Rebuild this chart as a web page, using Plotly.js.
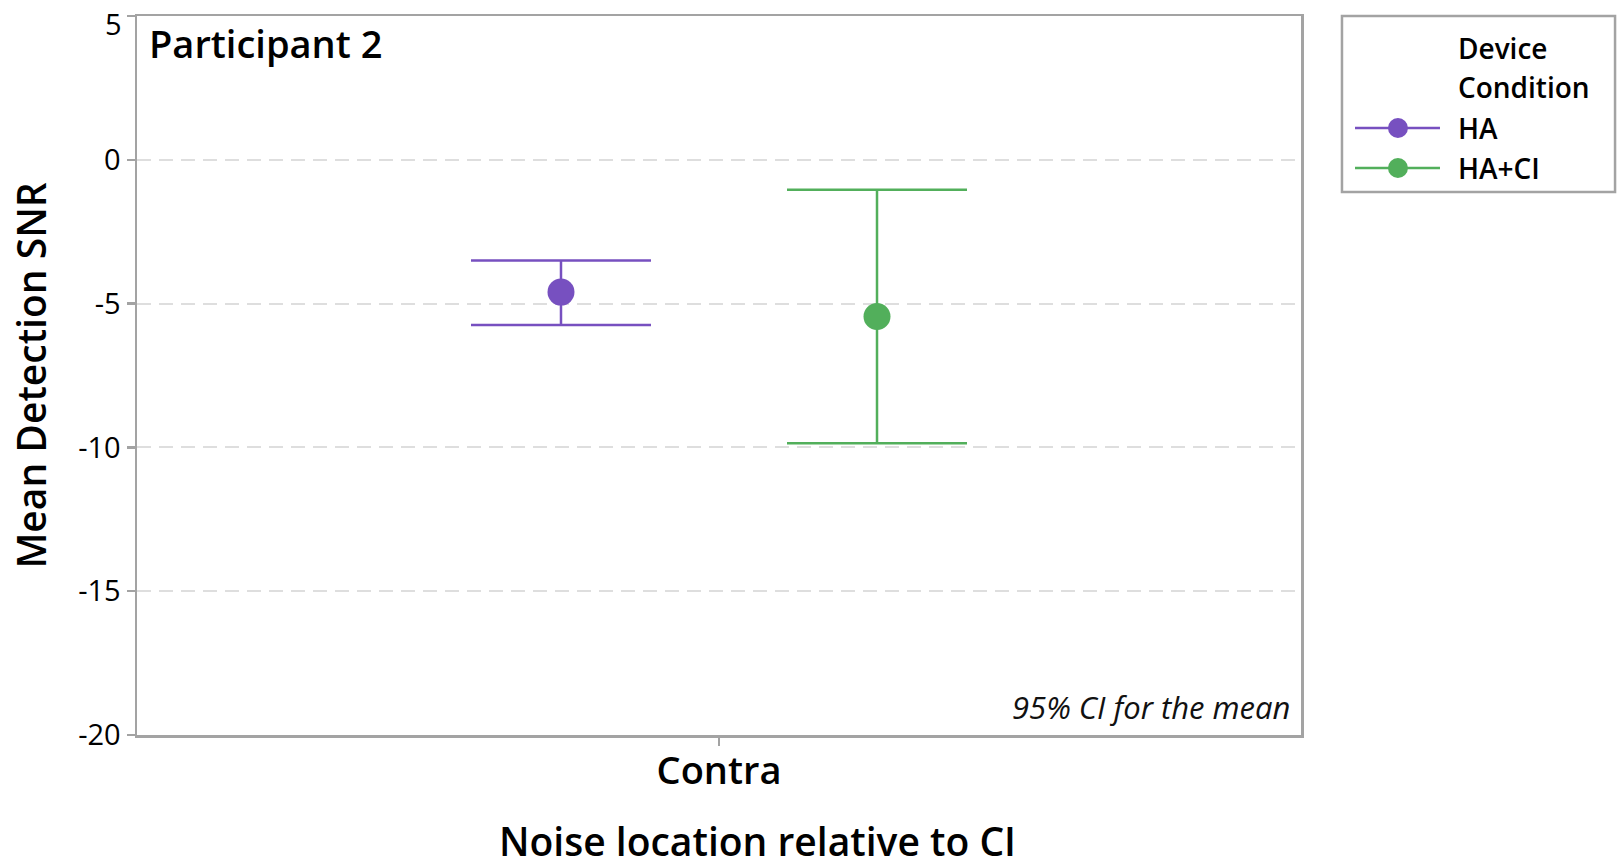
<!DOCTYPE html>
<html>
<head>
<meta charset="utf-8">
<script src="https://cdn.plot.ly/plotly-3.0.1.min.js"></script>
<style>
  html, body { margin: 0; padding: 0; background: #ffffff; }
  #chart { width: 1617px; height: 866px; }
</style>
</head>
<body>
<div id="chart"></div>
<script>
// Mean detection SNR with 95% confidence intervals, participant 2
const categories = ['Contra'];
const conditions = ['HA', 'HA+CI'];
const colors = ['#7750C0', '#52AF5B'];
const meanSNR = [[-4.60], [-5.45]];
const ciLow = [[-5.74], [-9.86]];
const ciHigh = [[-3.50], [-1.04]];
const yTicks = [5, 0, -5, -10, -15, -20];
const yTopTick = yTicks[0];

const FONT = '"Open Sans", "Noto Sans", "DejaVu Sans", sans-serif';

const traces = conditions.map((name, i) => ({
  type: 'scatter',
  mode: 'markers',
  name: name,
  x: categories,
  y: meanSNR[i],
  orientation: 'v',
  marker: { color: colors[i], size: 27, line: { width: 0 } },
  error_y: {
    type: 'data',
    symmetric: false,
    array: meanSNR[i].map((m, k) => ciHigh[i][k] - m),
    arrayminus: meanSNR[i].map((m, k) => m - ciLow[i][k]),
    color: colors[i],
    thickness: 2.5,
    width: 90
  },
  showlegend: false,
  hoverinfo: 'skip'
}));

// Legend drawn in paper space: box, title, line+dot swatches and labels
const legendX0 = 1.0352, legendX1 = 1.2698;
const swatchX0 = 1.0464, swatchX1 = 1.1194, swatchDot = 1.0833;
const labelX = 1.1332;
const legendRowsY = [0.8442, 0.7886];
const legendFont = { family: FONT, size: 28, color: '#000000', weight: 600 };

const shapes = [
  {
    type: 'rect', xref: 'paper', yref: 'paper',
    x0: legendX0, x1: legendX1, y0: 0.7552, y1: 1.0,
    line: { color: '#a3a3a3', width: 2.5 }, fillcolor: 'rgba(0,0,0,0)'
  }
];
const annotations = [
  {
    xref: 'paper', yref: 'paper', x: 0.0085, y: 0.962,
    xanchor: 'left', yanchor: 'middle', showarrow: false,
    text: 'Participant 2',
    font: { family: FONT, size: 38, color: '#000000', weight: 600 }
  },
  {
    xref: 'paper', yref: 'paper', x: 0.9925, y: 0.0389,
    xanchor: 'right', yanchor: 'middle', showarrow: false,
    text: '95% CI for the mean',
    font: { family: FONT, size: 31, color: '#111111', style: 'italic' }
  },
  // x-axis title, set a little right of the domain centre
  {
    xref: 'paper', yref: 'paper', x: 0.5335, y: -0.1465,
    xanchor: 'center', yanchor: 'middle', showarrow: false,
    text: 'Noise location relative to CI',
    font: { family: FONT, size: 39, color: '#000000', weight: 600 }
  },
  // label for the top tick, nudged down so it stays inside the page
  {
    xref: 'paper', yref: 'y', x: 0, y: yTopTick,
    xanchor: 'right', yanchor: 'middle', xshift: -13, yshift: -7,
    showarrow: false, text: String(yTopTick),
    font: { family: FONT, size: 29, color: '#000000' }
  },
  {
    xref: 'paper', yref: 'paper', x: labelX, y: 0.9548,
    xanchor: 'left', yanchor: 'middle', showarrow: false,
    text: 'Device', font: legendFont
  },
  {
    xref: 'paper', yref: 'paper', x: labelX, y: 0.9018,
    xanchor: 'left', yanchor: 'middle', showarrow: false,
    text: 'Condition', font: legendFont
  }
];
conditions.forEach((name, i) => {
  const yy = legendRowsY[i];
  shapes.push({
    type: 'line', xref: 'paper', yref: 'paper',
    x0: swatchX0, x1: swatchX1, y0: yy, y1: yy,
    line: { color: colors[i], width: 2.5 }
  });
  shapes.push({
    type: 'circle', xref: 'paper', yref: 'paper',
    xsizemode: 'pixel', ysizemode: 'pixel',
    xanchor: swatchDot, yanchor: yy,
    x0: -10, x1: 10, y0: -10, y1: 10,
    fillcolor: colors[i], line: { width: 0 }
  });
  annotations.push({
    xref: 'paper', yref: 'paper', x: labelX, y: yy,
    xanchor: 'left', yanchor: 'middle', showarrow: false,
    text: name, font: legendFont
  });
});

const layout = {
  width: 1617,
  height: 866,
  margin: { l: 137, r: 316, t: 16, b: 131 },
  paper_bgcolor: '#ffffff',
  plot_bgcolor: '#ffffff',
  font: { family: FONT, color: '#000000' },
  showlegend: false,
  scattermode: 'group',
  scattergap: 0.457,
  xaxis: {
    type: 'category',
    range: [-0.5, 0.5],
    showline: true, mirror: true,
    linecolor: '#a3a3a3', linewidth: 2.5,
    showgrid: false, zeroline: false,
    ticks: 'outside', ticklen: 8, tickwidth: 1.5, tickcolor: '#a3a3a3',
    ticklabelstandoff: -7,
    tickfont: { family: FONT, size: 38, color: '#000000', weight: 600 },
    fixedrange: true
  },
  yaxis: {
    range: [-20, 5],
    tickvals: yTicks,
    ticktext: yTicks.map(v => (v === yTopTick ? '' : String(v))),
    showline: true, mirror: true,
    linecolor: '#a3a3a3', linewidth: 2.5,
    showgrid: true, gridcolor: '#dedede', gridwidth: 2, griddash: '14px,8px',
    zeroline: false,
    ticks: 'outside', ticklen: 8, tickwidth: 2.5, tickcolor: '#a3a3a3',
    tickfont: { family: FONT, size: 29, color: '#000000' },
    title: {
      text: 'Mean Detection SNR',
      font: { family: FONT, size: 39, color: '#000000', weight: 600 },
      standoff: 20
    },
    fixedrange: true
  },
  shapes: shapes,
  annotations: annotations
};

Plotly.newPlot('chart', traces, layout, { displayModeBar: false, staticPlot: true });
</script>
</body>
</html>
